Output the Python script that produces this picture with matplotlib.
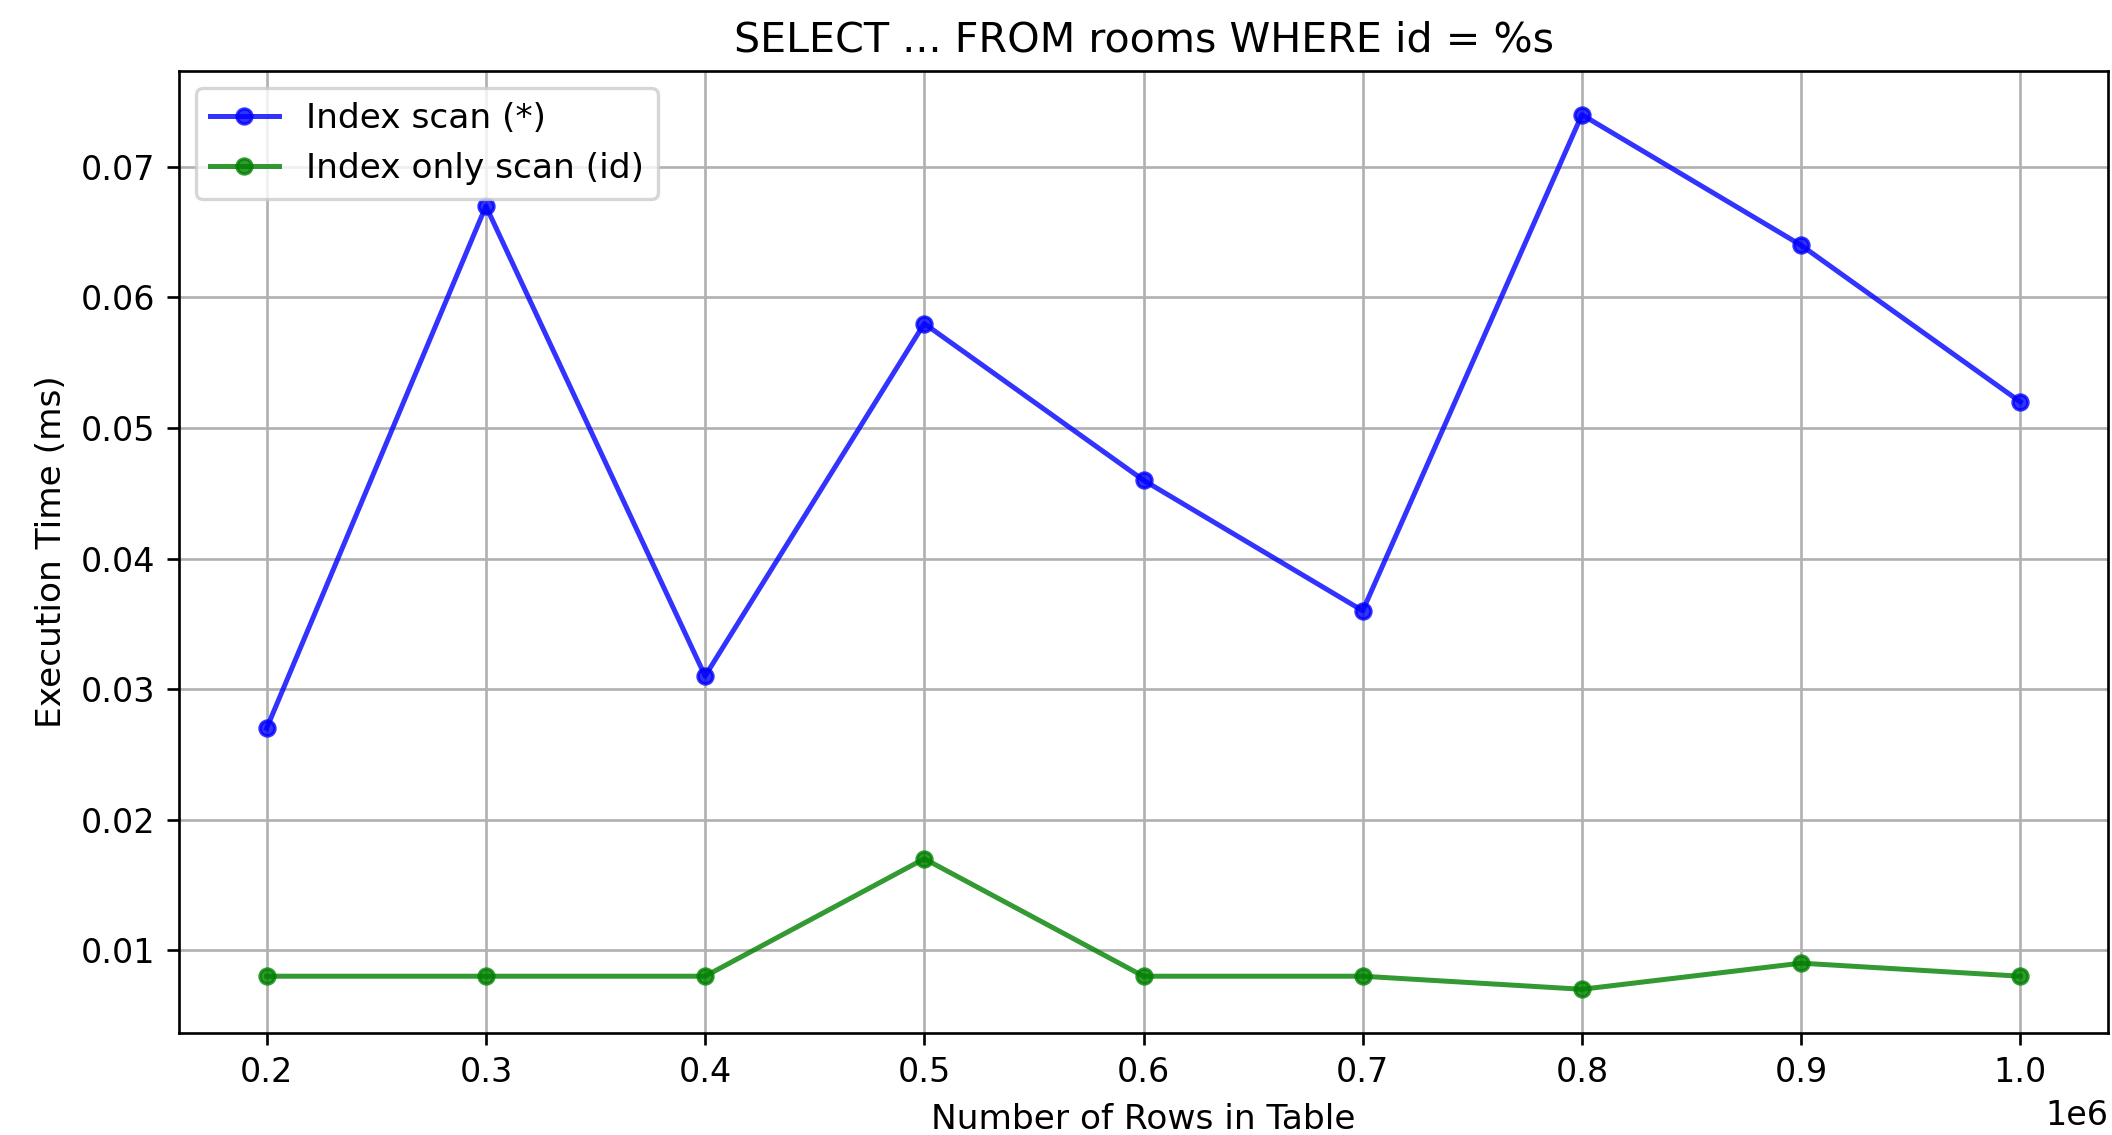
import matplotlib
matplotlib.use("Agg")
import matplotlib.pyplot as plt

rows = [200000, 300000, 400000, 500000, 600000, 700000, 800000, 900000, 1000000]
index_scan = [0.027, 0.067, 0.031, 0.058, 0.046, 0.036, 0.074, 0.064, 0.052]
index_only_scan = [0.008, 0.008, 0.008, 0.017, 0.008, 0.008, 0.007, 0.009, 0.008]

dpi = 240
fig = plt.figure(figsize=(2112 / dpi, 1135 / dpi), dpi=dpi)
ax = fig.add_axes([179 / 2112, 1 - 1033 / 1135, (2108 - 179) / 2112, (1033 - 71) / 1135])

ax.plot(rows, index_scan, marker="o", markersize=4.5, color="b", alpha=0.8, label="Index scan (*)")
ax.plot(rows, index_only_scan, marker="o", markersize=4.5, color="g", alpha=0.8, label="Index only scan (id)")

ax.set_title("SELECT ... FROM rooms WHERE id = %s", fontsize=12.4)
ax.set_xlabel("Number of Rows in Table", fontsize=10.3)
ax.set_ylabel("Execution Time (ms)", fontsize=10.3)
ax.grid(True)
ax.legend(loc="upper left", fontsize=10.3)

fig.savefig("out.png", dpi=dpi)
